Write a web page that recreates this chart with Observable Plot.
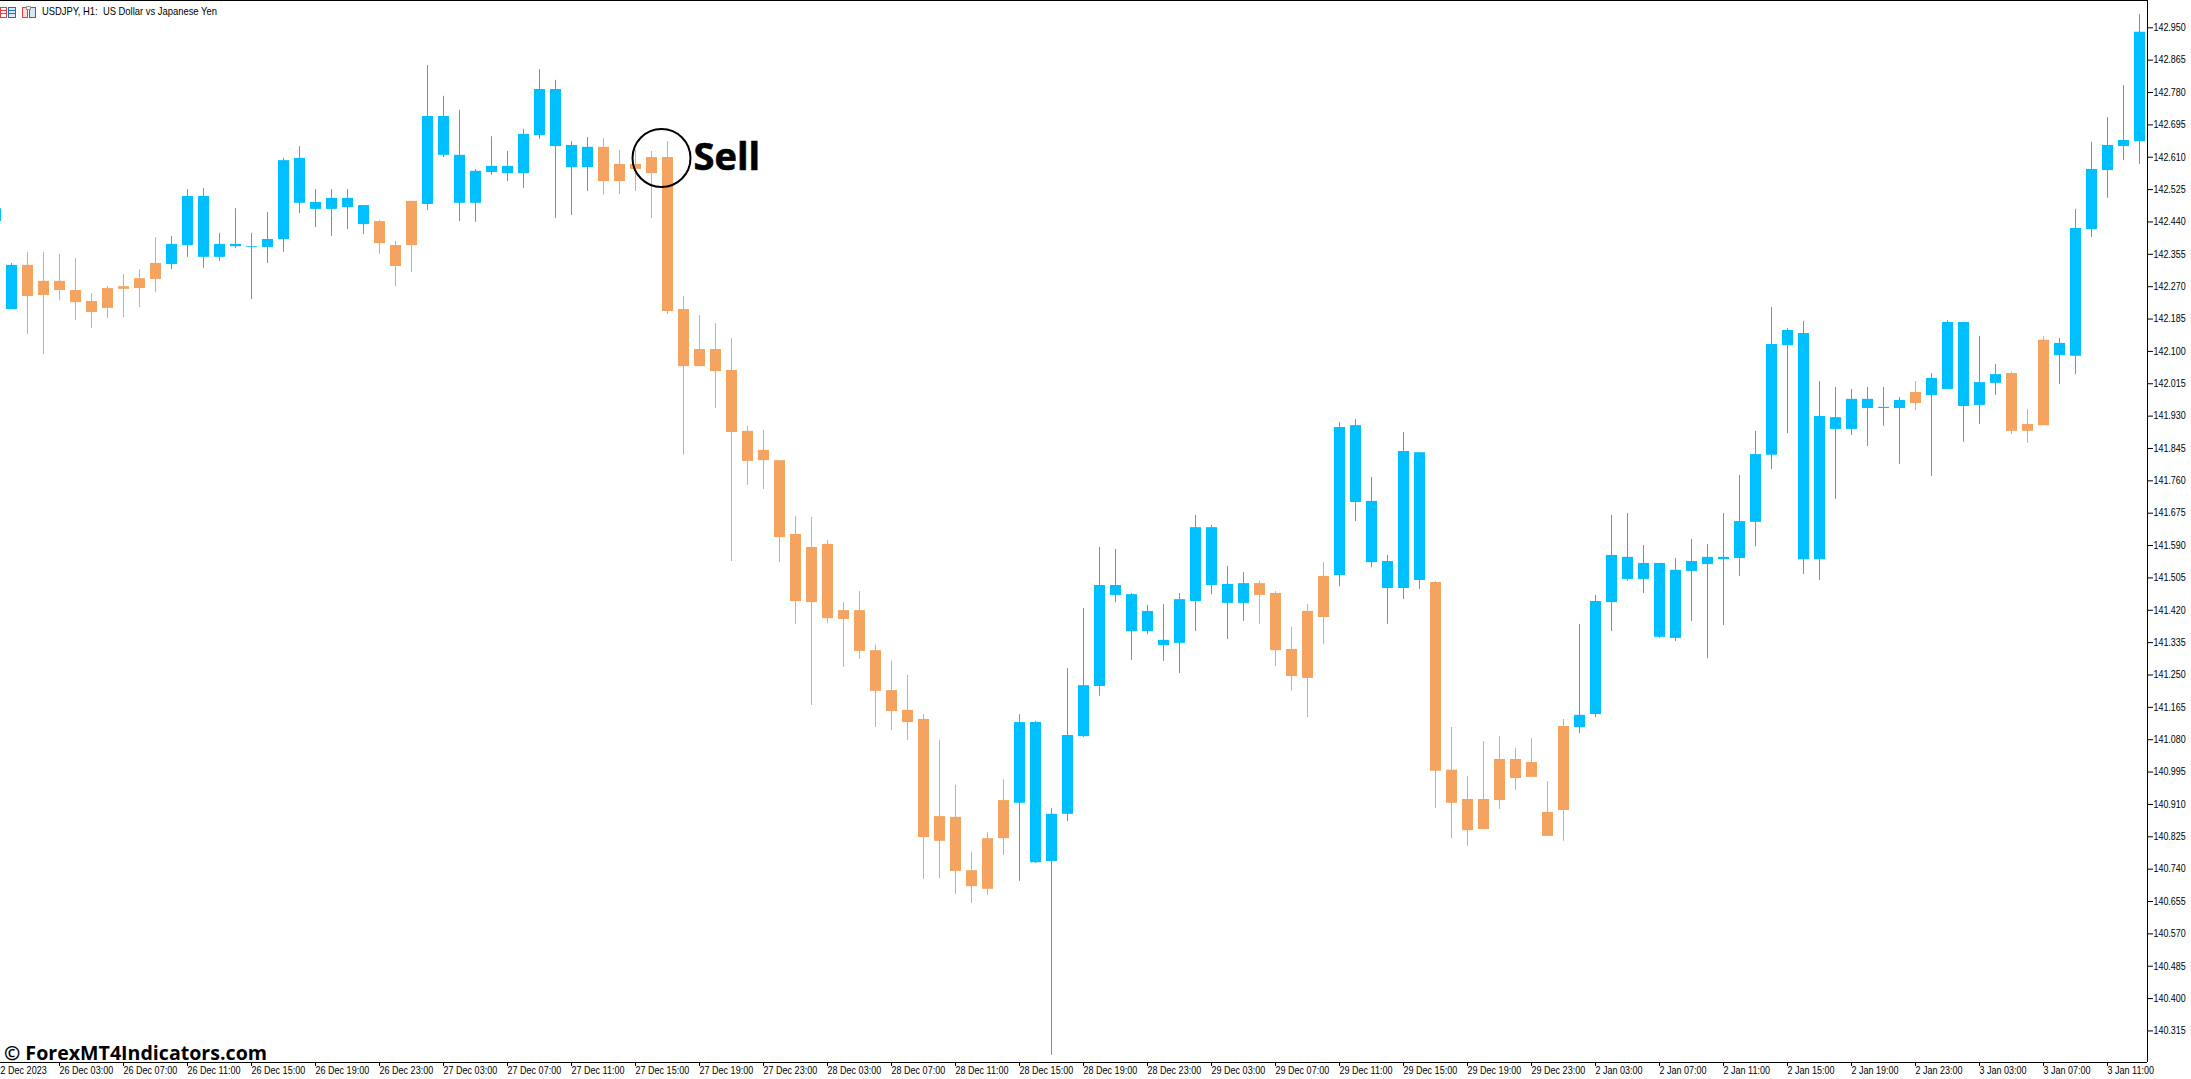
<!DOCTYPE html>
<html>
<head>
<meta charset="utf-8">
<script src="https://cdn.jsdelivr.net/npm/d3@7"></script>
<script src="https://cdn.jsdelivr.net/npm/@observablehq/plot@0.6"></script>
<style>
html,body{margin:0;padding:0;background:#fff;overflow:hidden}
#wrap{position:relative;width:2191px;height:1079px}
#icons{position:absolute;left:0;top:0}
</style>
</head>
<body>
<div id="wrap"><div id="chart"></div>
<svg id="icons" width="40" height="20" viewBox="0 0 40 20" shape-rendering="crispEdges">
<rect x="0.5" y="7.5" width="6" height="9.5" fill="#fff" stroke="#e5403a"/>
<path d="M1 10.5h6M1 13.5h6" stroke="#e5403a"/>
<rect x="8.5" y="7.5" width="6.5" height="9.5" fill="#dbeaf8" stroke="#1f6fc0"/>
<path d="M9 10.5h6M9 13.5h6" stroke="#1f6fc0"/>
<rect x="22.5" y="7.5" width="5" height="9.5" fill="#fbdcd6" stroke="#e5403a"/>
<rect x="29.5" y="7.5" width="6" height="9.5" fill="#d6e8f8" stroke="#1f6fc0"/>
<rect x="26.5" y="6.5" width="4" height="3" fill="#eee" stroke="#999"/>
</svg>
</div>
<script>
// Hourly USDJPY candles. Index -1 is the candle cut by the left edge.
const firstIndex = -1;
const open = [
142.441,142.210,142.326,142.284,142.284,142.260,142.231,142.265,142.270,142.291,142.331,
142.328,142.378,142.347,142.347,142.375,142.373,142.373,142.394,142.489,142.473,142.473,
142.478,142.433,142.441,142.378,142.494,142.486,142.615,142.489,142.489,142.570,142.567,
142.567,142.667,142.638,142.583,142.583,142.636,142.591,142.591,142.609,142.609,142.210,
142.105,142.105,142.050,141.890,141.840,141.813,141.619,141.585,141.593,141.419,141.419,
141.314,141.209,141.157,141.133,140.878,140.876,140.736,140.820,140.920,140.913,140.757,
140.760,140.884,141.088,141.220,141.459,141.364,141.364,141.327,141.333,141.443,141.485,
141.438,141.438,141.490,141.464,141.317,141.417,141.509,141.511,141.703,141.545,141.477,
141.477,141.498,141.493,141.000,140.923,140.923,141.028,141.028,141.020,140.889,141.115,
141.112,141.146,141.440,141.501,141.501,141.349,141.346,141.522,141.540,141.553,141.556,
141.651,141.827,142.115,141.553,141.553,141.895,141.895,141.950,141.950,141.950,141.992,
141.984,142.000,141.955,141.958,142.016,142.042,141.908,142.129,142.089,142.087,142.420,
142.575,142.638,142.651];
const close = [
142.475,142.326,142.244,142.247,142.260,142.228,142.202,142.213,142.263,142.265,142.289,
142.381,142.507,142.507,142.381,142.381,142.375,142.394,142.601,142.607,142.491,142.502,
142.502,142.483,142.383,142.323,142.378,142.717,142.717,142.615,142.573,142.586,142.586,
142.670,142.788,142.788,142.641,142.636,142.546,142.546,142.578,142.567,142.205,142.060,
142.060,142.047,141.887,141.811,141.813,141.611,141.443,141.440,141.398,141.396,141.312,
141.207,141.154,141.125,140.823,140.813,140.734,140.694,140.687,140.820,141.125,141.125,
140.884,141.091,141.222,141.485,141.485,141.461,141.417,141.341,141.448,141.637,141.637,
141.488,141.490,141.459,141.314,141.246,141.241,141.401,141.900,141.905,141.706,141.548,
141.837,141.834,140.997,140.913,140.841,140.844,140.920,140.978,140.981,140.826,140.894,
141.144,141.443,141.564,141.559,141.543,141.543,141.525,141.548,141.559,141.559,141.653,
141.829,142.118,142.155,142.147,141.929,141.926,141.974,141.974,141.953,141.971,141.963,
142.029,142.176,142.176,142.018,142.039,141.890,141.890,141.905,142.121,142.423,142.578,
142.641,142.654,142.938];
const high = [
142.475,142.331,142.360,142.360,142.355,142.344,142.252,142.270,142.302,142.315,142.399,
142.402,142.525,142.528,142.410,142.475,142.410,142.465,142.607,142.638,142.525,142.525,
142.525,142.483,142.444,142.389,142.494,142.851,142.770,142.733,142.578,142.664,142.625,
142.683,142.840,142.812,142.651,142.662,142.659,142.628,142.628,142.625,142.651,142.244,
142.194,142.173,142.134,141.903,141.892,141.813,141.666,141.664,141.603,141.440,141.469,
141.328,141.286,141.249,141.146,141.078,140.960,140.784,140.836,140.975,141.146,141.128,
140.899,141.267,141.425,141.585,141.580,141.464,141.433,141.435,141.464,141.669,141.643,
141.535,141.519,141.496,141.469,141.375,141.435,141.545,141.913,141.921,141.769,141.564,
141.887,141.834,141.496,141.112,140.983,141.075,141.088,141.057,141.083,140.970,141.133,
141.383,141.459,141.669,141.674,141.590,141.543,141.556,141.606,141.593,141.674,141.774,
141.890,142.215,142.160,142.179,142.021,142.005,142.000,142.005,142.005,141.979,142.021,
142.042,142.181,142.176,142.139,142.066,142.045,141.947,142.139,142.134,142.473,142.649,
142.714,142.798,142.985];
const low = [
142.441,142.210,142.144,142.092,142.234,142.181,142.160,142.186,142.189,142.215,142.255,
142.315,142.347,142.318,142.336,142.370,142.236,142.331,142.360,142.462,142.425,142.402,
142.420,142.407,142.355,142.270,142.307,142.470,142.609,142.441,142.439,142.562,142.546,
142.528,142.657,142.449,142.457,142.520,142.510,142.512,142.520,142.449,142.197,141.827,
142.060,141.950,141.548,141.748,141.737,141.545,141.383,141.170,141.385,141.270,141.291,
141.112,141.104,141.078,140.713,140.715,140.673,140.650,140.671,140.776,140.708,140.755,
140.251,140.865,141.086,141.194,141.440,141.288,141.356,141.286,141.254,141.364,141.461,
141.343,141.391,141.383,141.272,141.207,141.138,141.330,141.482,141.653,141.532,141.383,
141.448,141.475,140.899,140.820,140.800,140.844,140.897,140.947,140.981,140.826,140.813,
141.096,141.138,141.364,141.496,141.464,141.346,141.338,141.391,141.293,141.380,141.509,
141.587,141.790,141.884,141.514,141.498,141.711,141.879,141.850,141.903,141.803,141.945,
141.771,142.000,141.861,141.908,141.984,141.882,141.858,141.905,142.013,142.039,142.399,
142.502,142.601,142.591];

const priceTicks = [142.950,142.865,142.780,142.695,142.610,142.525,142.440,142.355,142.270,142.185,142.100,142.015,141.930,141.845,141.760,141.675,141.590,141.505,141.420,141.335,141.250,141.165,141.080,140.995,140.910,140.825,140.740,140.655,140.570,140.485,140.400,140.315];
const timeTickIndex = [-1,3,7,11,15,19,23,27,31,35,39,43,47,51,55,59,63,67,71,75,79,83,87,91,95,99,103,107,111,115,119,123,127,131];
const timeTickLabels = ["22 Dec 2023","26 Dec 03:00","26 Dec 07:00","26 Dec 11:00","26 Dec 15:00","26 Dec 19:00","26 Dec 23:00","27 Dec 03:00","27 Dec 07:00","27 Dec 11:00","27 Dec 15:00","27 Dec 19:00","27 Dec 23:00","28 Dec 03:00","28 Dec 07:00","28 Dec 11:00","28 Dec 15:00","28 Dec 19:00","28 Dec 23:00","29 Dec 03:00","29 Dec 07:00","29 Dec 11:00","29 Dec 15:00","29 Dec 19:00","29 Dec 23:00","2 Jan 03:00","2 Jan 07:00","2 Jan 11:00","2 Jan 15:00","2 Jan 19:00","2 Jan 23:00","3 Jan 03:00","3 Jan 07:00","3 Jan 11:00"];

const upColor = "#00BFFF";
const downColor = "#F4A460";
const sizing = {width: 2191, height: 1079, marginLeft: 0, marginRight: 44, marginTop: 0, marginBottom: 17};
const indexDomain = [-0.6875, 133.5];
const priceDomain = [140.2321, 143.0217];

const candles = open.map((o, k) => ({
  i: firstIndex + k, open: o, close: close[k], high: high[k], low: low[k],
  color: close[k] >= o ? upColor : downColor
}));
const labelOf = new Map(timeTickIndex.map((t, k) => [t, timeTickLabels[k]]));

const chart = Plot.plot({
  ...sizing,
  style: {fontFamily: "'Liberation Sans',sans-serif", fontSize: "11px", background: "#fff", color: "#000", overflow: "hidden"},
  x: {type: "linear", domain: indexDomain},
  y: {type: "linear", domain: priceDomain},
  marks: [
    Plot.ruleX(candles, {x: "i", y1: "low", y2: "high", stroke: "color", strokeWidth: 1}),
    Plot.ruleX(candles, {x: "i", y1: "open", y2: "close", stroke: "color", strokeWidth: 11}),
    Plot.ruleY([priceDomain[0], priceDomain[1]], {stroke: "#000", strokeWidth: 1, x1: indexDomain[0], x2: indexDomain[1]}),
    Plot.ruleX([indexDomain[1]], {stroke: "#000", strokeWidth: 1, y1: priceDomain[0], y2: priceDomain[1]}),
    Plot.axisY({anchor: "right", ticks: priceTicks, tickFormat: d => d.toFixed(3), tickSize: 5, tickPadding: 1, stroke: "#000", fill: "#000", fontSize: 10.3, label: null}),
    Plot.axisX({anchor: "bottom", ticks: timeTickIndex, tickFormat: d => labelOf.get(d), tickSize: 4, tickPadding: 0, textAnchor: "start", stroke: "#000", fill: "#000", fontSize: 11, label: null}),
    Plot.dot([{i: 40.625, p: 142.608}], {x: "i", y: "p", r: 29, stroke: "#000", strokeWidth: 2, fill: "none"}),
    Plot.text(["Sell"], {x: [42.625], y: [142.608], text: d => d, textAnchor: "start", fontFamily: "'Open Sans',sans-serif", fontWeight: 700, fontSize: 38, fill: "#000", stroke: "#000", strokeWidth: 0.6}),
    Plot.text(["USDJPY, H1:  US Dollar vs Japanese Yen"], {className: "squeeze-title", x: [1.9], y: [142.992], text: d => d, textAnchor: "start", fontFamily: "'Liberation Sans',sans-serif", fontSize: 11, fill: "#000"}),
    Plot.text(["© ForexMT4Indicators.com"], {x: [-0.47], y: [140.256], text: d => d, textAnchor: "start", fontFamily: "'Open Sans',sans-serif", fontWeight: 700, fontSize: 19.6, fill: "#000"})
  ]
});
document.getElementById("chart").appendChild(chart);

// The reference's small labels are a narrow face: keep their height, condense their width.
function squeeze(selector, factor) {
  d3.select(chart).selectAll(selector).each(function () {
    const w = this.getComputedTextLength();
    this.setAttribute("textLength", (w * factor).toFixed(1));
    this.setAttribute("lengthAdjust", "spacingAndGlyphs");
  });
}
squeeze('g[aria-label="y-axis tick label"] text', 0.865);
squeeze('g[aria-label="x-axis tick label"] text', 0.82);
squeeze('.squeeze-title text, text.squeeze-title', 0.855);
</script>
</body>
</html>
